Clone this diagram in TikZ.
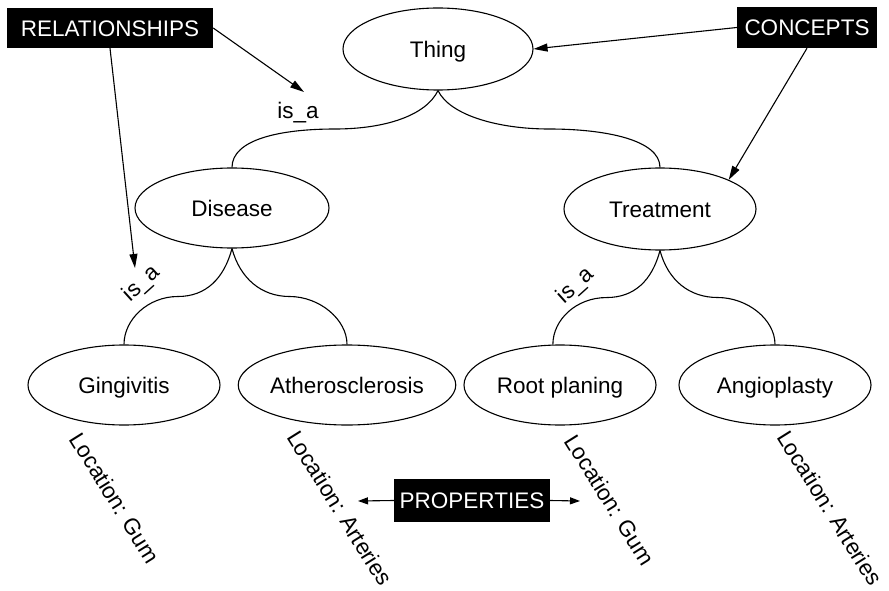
\documentclass[tikz,border=0pt]{standalone}
\usepackage{fontspec}
\setmainfont{Liberation Sans}
\usetikzlibrary{arrows.meta,calc,shapes.geometric}
\begin{document}
\begin{tikzpicture}[x=1pt,y=-1pt,
  every node/.style={font=\fontsize{22.5}{27}\selectfont, text=black},
  concept/.style={draw, ellipse, line width=1.1pt, minimum width=192pt, minimum height=80pt, inner sep=0pt,
    text height=16.5pt, text depth=0pt},
  tag/.style={fill=black, text=white, inner xsep=2pt, inner ysep=0pt, minimum height=41pt,
    text height=16.5pt, text depth=0pt},
  link/.style={line width=1.1pt},
  pointer/.style={line width=1.1pt, -{Triangle[length=14pt,width=8pt]}},
  smallpointer/.style={line width=1.1pt, -{Triangle[length=10pt,width=7pt]}},
  prop/.style={rotate=-58, inner sep=1pt},
  rel/.style={inner sep=1pt}
]
\useasboundingbox (0,0) rectangle (889,591);

% concepts
\node[concept, minimum width=190pt, minimum height=82pt] (thing) at (438,49) {Thing};
\node[concept, minimum width=194pt] (dis) at (232,208) {Disease};
\node[concept, minimum height=82pt] (treat) at (660,209) {Treatment};
\node[concept] (ging) at (124,385) {Gingivitis};
\node[concept] (ath) at (347,385) {Atherosclerosis};
\node[concept] (root) at (560,385) {Root planing};
\node[concept] (angio) at (775,385) {Angioplasty};

% is_a links
\draw[link] (thing.south) .. controls +(-12,25) and +(50,0) .. ($(thing.south)!.5!(dis.north)$)
  .. controls +(-55,0) and +(0,-28) .. (dis.north);
\draw[link] (thing.south) .. controls +(12,25) and +(-50,0) .. ($(thing.south)!.5!(treat.north)$)
  .. controls +(55,0) and +(0,-28) .. (treat.north);
\draw[link] (dis.south) .. controls +(-8,30) and +(28,0) .. ($(dis.south)!.5!(ging.north)$)
  .. controls +(-30,0) and +(0,-25) .. (ging.north);
\draw[link] (dis.south) .. controls +(8,30) and +(-28,0) .. ($(dis.south)!.5!(ath.north)$)
  .. controls +(30,0) and +(0,-25) .. (ath.north);
\draw[link] (treat.south) .. controls +(-8,30) and +(28,0) .. ($(treat.south)!.5!(root.100)$)
  .. controls +(-30,0) and +(0,-25) .. (root.100);
\draw[link] (treat.south) .. controls +(8,30) and +(-28,0) .. ($(treat.south)!.5!(angio.north)$)
  .. controls +(30,0) and +(0,-25) .. (angio.north);

% relation labels
\node[rel] (isa0) at (298,113) {is\_a};
\node[rel, rotate=42] (isa1) at (142,284) {is\_a};
\node[rel, rotate=42] (isa2) at (576,286) {is\_a};

% properties
\node[prop] (loc1) at (115,498) {Location: Gum};
\node[prop] (loc2) at (340,508) {Location: Arteries};
\node[prop] (loc3) at (610,500) {Location: Gum};
\node[prop] (loc4) at (830,508) {Location: Arteries};

% legend tags
\node[tag, minimum width=206pt, minimum height=40pt] (relations) at (110,28) {RELATIONSHIPS};
\node[tag, minimum width=140pt] (concepts) at (807,27.5) {CONCEPTS};
\node[tag, minimum width=156pt, minimum height=43pt] (props) at (472,500.5) {PROPERTIES};

\coordinate (relA) at (304,92);
\coordinate (relB) at (135,268);
\coordinate (propL) at (358,501);
\coordinate (propR) at (580,501);

\draw[pointer] (relations.east) -- (relA);
\draw[pointer] (relations.south) -- (relB);
\draw[pointer] (concepts.west) -- (thing.east);
\draw[pointer] (concepts.south) -- (treat.23);
\draw[smallpointer] (props.west) -- (propL);
\draw[smallpointer] (props.east) -- (propR);
\end{tikzpicture}
\end{document}
